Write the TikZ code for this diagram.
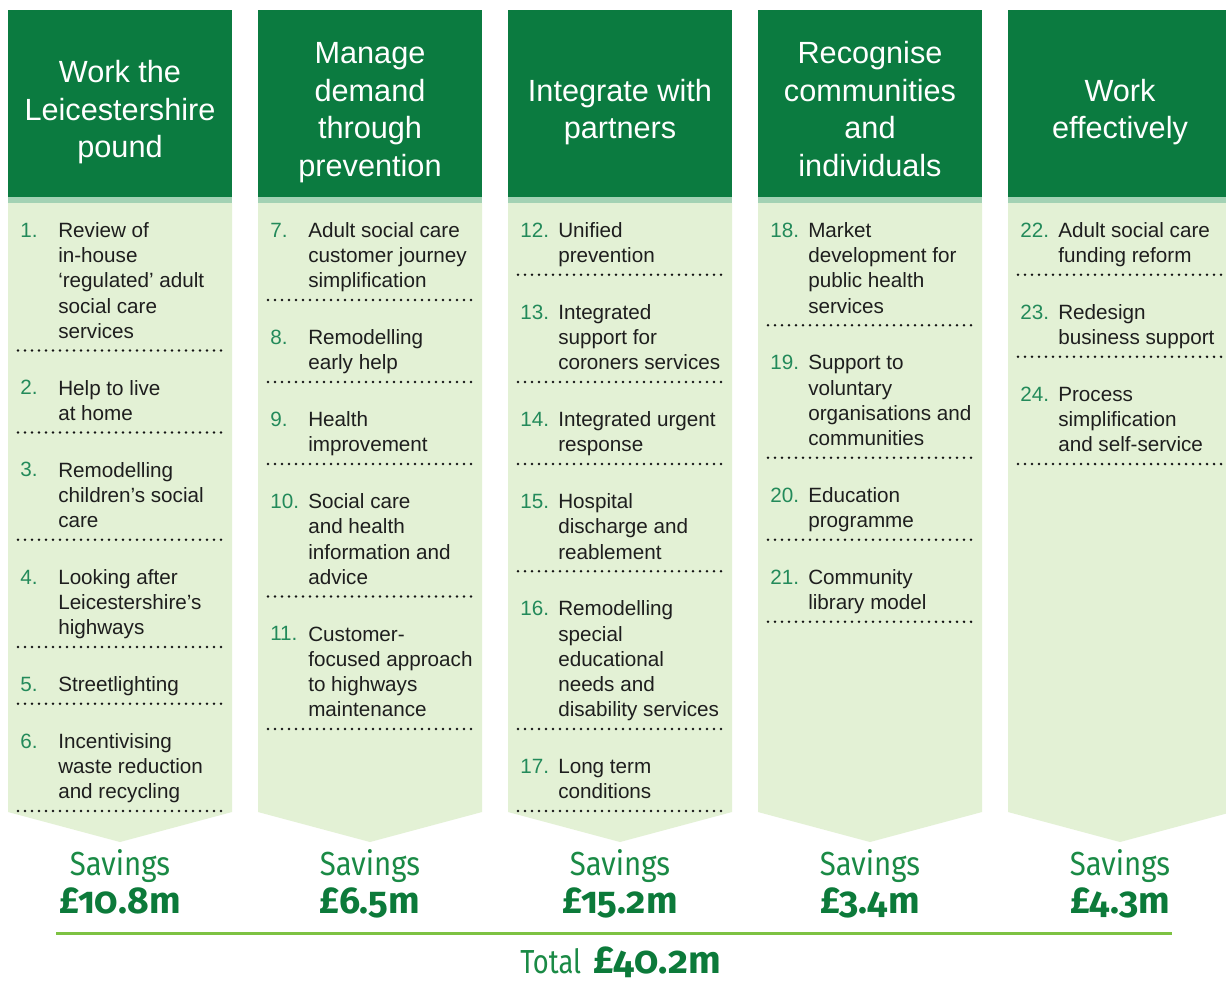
\documentclass[tikz,border=0pt]{standalone}
\usepackage{fontspec}
\setmainfont{Liberation Sans}
\newfontfamily\savfont[Numbers=OldStyle]{Fira Sans}
\newfontfamily\savnarrow[Numbers=OldStyle,FakeStretch=0.88]{Fira Sans}
\newfontfamily\totnarrow[FakeStretch=0.82]{Fira Sans}
\definecolor{hdrgreen}{HTML}{0B7B40}
\definecolor{stripegreen}{HTML}{A3D2B4}
\definecolor{panelgreen}{HTML}{E3F1D5}
\definecolor{numgreen}{HTML}{238A5A}
\definecolor{savgreen}{HTML}{1A8A45}
\definecolor{amtgreen}{HTML}{0C7A3A}
\definecolor{linegreen}{HTML}{7DC242}
\definecolor{textdark}{HTML}{1E1E1E}
\definecolor{dotdark}{HTML}{141414}
\newcommand\bodyfont{\fontsize{15.5pt}{18.94pt}\selectfont}
\tikzset{
  coltitle/.style={text=white, align=center, inner sep=0pt,
    font=\fontsize{23pt}{28.125pt}\selectfont},
  numlbl/.style={anchor=base west, inner sep=0pt, text=numgreen, font=\bodyfont},
  itemtext/.style={anchor=north west, align=left, inner sep=0pt, text=textdark, font=\bodyfont},
  dotsep/.style={draw=dotdark, line width=2.2pt, line cap=round, dash pattern=on 0pt off 5.25pt},
  savlbl/.style={anchor=base, inner sep=0pt, text=savgreen, font=\savnarrow\fontsize{25pt}{30pt}\selectfont},
  savamt/.style={anchor=base, inner sep=0pt, text=amtgreen, font=\savfont\bfseries\fontsize{28pt}{32pt}\selectfont},
}
% column background: #1 = left x
\newcommand\colbg[1]{%
  \fill[hdrgreen] (#1,10) rectangle ++(224,187);
  \fill[stripegreen] (#1,197) rectangle ++(224,6);
  \fill[panelgreen] (#1,203) -- ++(224,0) -- ++(0,609) -- ++(-112,30) -- ++(-112,-30) -- cycle;
}
% item: #1 name, #2 column left x, #3 first baseline, #4 number, #5 text
\newcommand\pitem[5]{%
  \node[numlbl] (n#1) at (#2+12,#3) {#4};
  \node[itemtext] (t#1) at (#2+50,#3-17.675) {\strut #5};
}
\newcommand\dsep[2]{\draw[dotsep] (#1+10,#2) -- (#1+214,#2);}
\begin{document}
\begin{tikzpicture}[x=0.75pt,y=-0.75pt]
\useasboundingbox (0,0) rectangle (1226,983);
\clip (0,0) rectangle (1226,983);
\fill[white] (0,0) rectangle (1226,983);

\colbg{8}\colbg{258}\colbg{508}\colbg{758}\colbg{1008}

% titles
\node[coltitle] (h1) at (120,112.5) {\strut Work the\\Leicestershire\\pound\strut};
\node[coltitle] (h2) at (370,112.5) {\strut Manage\\demand\\through\\prevention\strut};
\node[coltitle] (h3) at (620,112.5) {\strut Integrate with\\partners\strut};
\node[coltitle] (h4) at (870,112.5) {\strut Recognise\\communities\\and\\individuals\strut};
\node[coltitle] (h5) at (1120,112.5) {\strut Work\\effectively\strut};

% column 1
\pitem{1}{8}{237}{1.}{Review of\\in-house\\‘regulated’ adult\\social care\\services}
\dsep{8}{350.5}
\pitem{2}{8}{394.75}{2.}{Help to live\\at home}
\dsep{8}{432.5}
\pitem{3}{8}{476.75}{3.}{Remodelling\\children’s social\\care}
\dsep{8}{539.75}
\pitem{4}{8}{584}{4.}{Looking after\\Leicestershire’s\\highways}
\dsep{8}{647}
\pitem{5}{8}{691.25}{5.}{Streetlighting}
\dsep{8}{703.75}
\pitem{6}{8}{748}{6.}{Incentivising\\waste reduction\\and recycling}
\dsep{8}{811}

% column 2
\pitem{7}{258}{237}{7.}{Adult social care\\customer journey\\simplification}
\dsep{258}{300}
\pitem{8}{258}{344.25}{8.}{Remodelling\\early help}
\dsep{258}{382}
\pitem{9}{258}{426.25}{9.}{Health\\improvement}
\dsep{258}{464}
\pitem{10}{258}{508.25}{10.}{Social care\\and health\\information and\\advice}
\dsep{258}{596.5}
\pitem{11}{258}{640.75}{11.}{Customer-\\focused approach\\to highways\\maintenance}
\dsep{258}{729}

% column 3
\pitem{12}{508}{237}{12.}{Unified\\prevention}
\dsep{508}{274.75}
\pitem{13}{508}{319}{13.}{Integrated\\support for\\coroners services}
\dsep{508}{382}
\pitem{14}{508}{426.25}{14.}{Integrated urgent\\response}
\dsep{508}{464}
\pitem{15}{508}{508.25}{15.}{Hospital\\discharge and\\reablement}
\dsep{508}{571.25}
\pitem{16}{508}{615.5}{16.}{Remodelling\\special\\educational\\needs and\\disability services}
\dsep{508}{729}
\pitem{17}{508}{773.25}{17.}{Long term\\conditions}
\dsep{508}{811}

% column 4
\pitem{18}{758}{237}{18.}{Market\\development for\\public health\\services}
\dsep{758}{325.25}
\pitem{19}{758}{369.5}{19.}{Support to\\voluntary\\organisations and\\communities}
\dsep{758}{457.75}
\pitem{20}{758}{502}{20.}{Education\\programme}
\dsep{758}{539.75}
\pitem{21}{758}{584}{21.}{Community\\library model}
\dsep{758}{621.75}

% column 5
\pitem{22}{1008}{237}{22.}{Adult social care\\funding reform}
\dsep{1008}{274.75}
\pitem{23}{1008}{319}{23.}{Redesign\\business support}
\dsep{1008}{356.75}
\pitem{24}{1008}{401}{24.}{Process\\simplification\\and self-service}
\dsep{1008}{464}

% savings
\node[savlbl] (s1) at (120,875) {Savings};
\node[savamt] (a1) at (120,913) {£10.8m};
\node[savlbl] (s2) at (370,875) {Savings};
\node[savamt] (a2) at (370,913) {£6.5m};
\node[savlbl] (s3) at (620,875) {Savings};
\node[savamt] (a3) at (620,913) {£15.2m};
\node[savlbl] (s4) at (870,875) {Savings};
\node[savamt] (a4) at (870,913) {£3.4m};
\node[savlbl] (s5) at (1120,875) {Savings};
\node[savamt] (a5) at (1120,913) {£4.3m};

% total line
\coordinate (lineL) at (56,933);
\coordinate (lineR) at (1172,933);
\draw[linegreen, line width=2.25pt] (lineL) -- (lineR);
\node[anchor=base west, inner sep=0pt, text=savgreen, font=\totnarrow\fontsize{25pt}{30pt}\selectfont] (totlbl) at (520,973) {Total};
\node[anchor=base west, inner sep=0pt, text=amtgreen, font=\savfont\bfseries\fontsize{29pt}{34pt}\selectfont] (totamt) at (593,973) {£40.2m};
\end{tikzpicture}
\end{document}
